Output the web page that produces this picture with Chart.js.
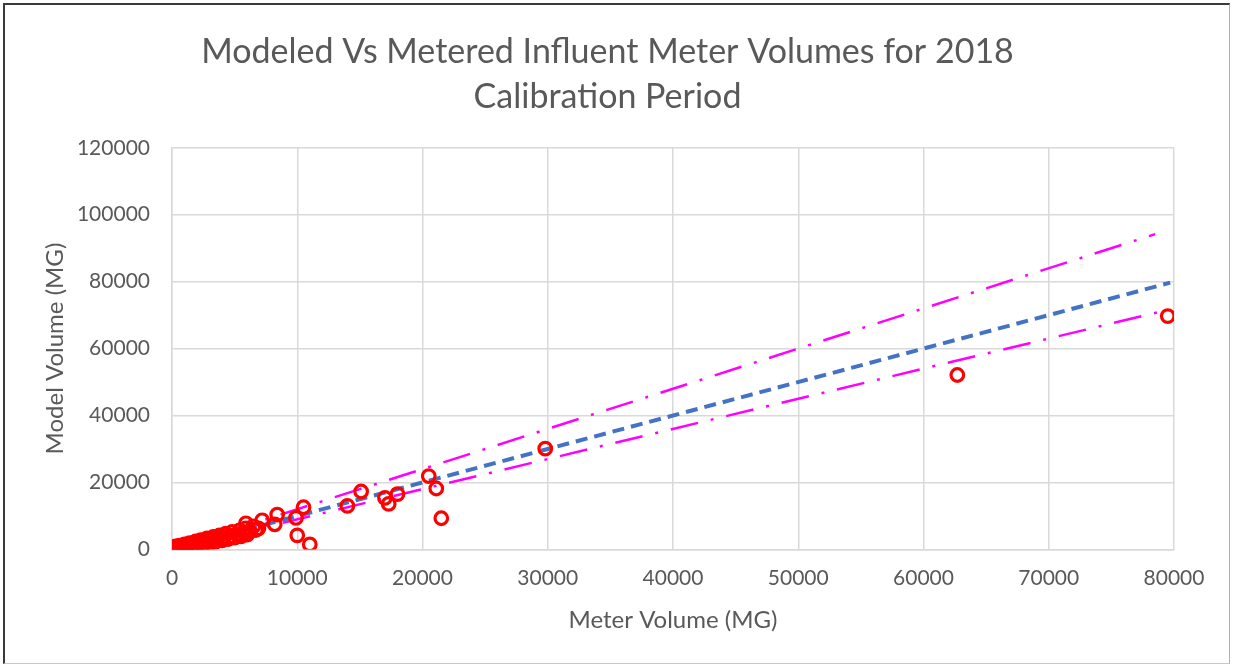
<!DOCTYPE html>
<html lang="en">
<head>
    <meta charset="UTF-8">
    <title>Modeled Vs Metered Influent Meter Volumes for 2018 Calibration Period</title>
    <style>
        * {
            margin: 0;
            padding: 0;
            box-sizing: border-box;
        }
        body {
            background: #ffffff;
            width: 1233px;
            height: 666px;
            overflow: hidden;
        }
        #chartBox {
            position: absolute;
            left: 0;
            top: 0;
            width: 1233px;
            height: 666px;
        }
        /* thin frame around the chart */
        .frame {
            position: absolute;
            left: 3px;
            top: 3px;
            width: 1227px;
            height: 661px;
            border-left: 2px solid #3a3a3a;
            border-top: 2px solid #3a3a3a;
            border-right: 1px solid #b0b0b0;
            border-bottom: 1px solid #c8c8c8;
            pointer-events: none;
        }
    </style>
</head>
<body>
    <div id="chartBox"><canvas id="volumeChart" width="1233" height="666"></canvas></div>
    <div class="frame"></div>

    <script src="https://cdn.jsdelivr.net/npm/chart.js"></script>
    <script>
        // metered vs modeled volumes (MG)
        const meterVolume = [
            0, 100, 200, 300, 400, 500, 600, 800, 900, 1000,
            1200, 1300, 1400, 1600, 1700, 1900, 2000, 2200, 2300, 2500,
            2600, 2800, 3000, 3100, 3300, 3500, 3600, 3800, 4000, 4100,
            4300, 4500, 4700, 4800, 5000, 5200, 5400, 5500, 5700, 5900,
            6000, 6200, 6500, 6700, 6900, 5900, 7200, 8200, 8400, 9900,
            10500, 10000, 11000, 14000, 15100, 17000, 17300, 18000, 20500, 21100,
            21500, 29800, 62700, 79500
        ];
        const modelVolume = [
            0, 600, 200, 900, 0, 400, 1100, 300, 900, 1500,
            700, 1300, 1900, 900, 1700, 2400, 1200, 2000, 2800, 1500,
            2400, 3300, 1900, 2800, 3700, 2300, 3200, 4200, 2700, 3600,
            4700, 3100, 4000, 5200, 3500, 4500, 5700, 3900, 5000, 6300,
            4400, 5400, 6900, 5800, 6300, 7800, 8700, 7500, 10400, 9400,
            12600, 4200, 1500, 13000, 17300, 15400, 13600, 16500, 21900, 18200,
            9300, 30100, 52100, 69700
        ];

        // reference lines: 1:1, +20% and -10%
        const oneToOneX = [0, 79700];
        const upperBandX = [0, 78500];
        const lowerBandX = [0, 79500];
        const upperFactor = 1.2;
        const lowerFactor = 0.9;

        const xTicks = [0, 10000, 20000, 30000, 40000, 50000, 60000, 70000, 80000];
        const yTicks = [0, 20000, 40000, 60000, 80000, 100000, 120000];

        const textColor = '#595959';
        const gridColor = '#d9d9d9';
        const fontName = 'Lato, "Open Sans", sans-serif';

        const points = meterVolume.map((x, i) => ({ x: x, y: modelVolume[i] }));
        const oneToOne = oneToOneX.map(x => ({ x: x, y: x }));
        const upperBand = upperBandX.map(x => ({ x: x, y: x * upperFactor }));
        const lowerBand = lowerBandX.map(x => ({ x: x, y: x * lowerFactor }));

        const ctx = document.getElementById('volumeChart').getContext('2d');
        const volumeChart = new Chart(ctx, {
            type: 'scatter',
            data: {
                datasets: [
                    {
                        label: 'Volumes',
                        data: points,
                        pointStyle: 'circle',
                        pointRadius: 6.3,
                        pointBorderWidth: 3.2,
                        borderColor: '#ff0000',
                        backgroundColor: 'rgba(0,0,0,0)',
                        showLine: false
                    },
                    {
                        label: '1:1',
                        data: oneToOne,
                        showLine: true,
                        borderColor: '#4472c4',
                        borderWidth: 4,
                        borderDash: [12, 7],
                        pointRadius: 0
                    },
                    {
                        label: '+20%',
                        data: upperBand,
                        showLine: true,
                        borderColor: '#ff00ff',
                        borderWidth: 2.5,
                        borderDash: [28, 13, 3, 13],
                        pointRadius: 0
                    },
                    {
                        label: '-10%',
                        data: lowerBand,
                        showLine: true,
                        borderColor: '#ff00ff',
                        borderWidth: 2.5,
                        borderDash: [28, 13, 3, 13],
                        pointRadius: 0
                    }
                ]
            },
            options: {
                responsive: false,
                animation: false,
                layout: { padding: { left: 41, right: 59, top: 0, bottom: 33 } },
                plugins: {
                    legend: { display: false },
                    tooltip: { enabled: false },
                    title: {
                        display: true,
                        text: ['Modeled Vs Metered Influent Meter Volumes for 2018', 'Calibration Period'],
                        color: textColor,
                        font: { family: fontName, size: 34, weight: 'normal', lineHeight: 1.32 },
                        padding: { top: 30, bottom: 28 }
                    }
                },
                scales: {
                    x: {
                        type: 'linear',
                        min: 0,
                        max: 80000,
                        afterBuildTicks: axis => { axis.ticks = xTicks.map(v => ({ value: v })); },
                        ticks: {
                            color: textColor,
                            font: { family: fontName, size: 21 },
                            padding: 16,
                            maxRotation: 0,
                            callback: v => String(v)
                        },
                        grid: { color: gridColor, lineWidth: 1.5, drawTicks: false },
                        border: { color: gridColor, width: 1.5 },
                        title: {
                            display: true,
                            text: 'Meter Volume (MG)',
                            color: textColor,
                            font: { family: fontName, size: 24, lineHeight: 1.1 },
                            padding: { top: 0, bottom: 0 }
                        }
                    },
                    y: {
                        type: 'linear',
                        min: 0,
                        max: 120000,
                        afterBuildTicks: axis => { axis.ticks = yTicks.map(v => ({ value: v })); },
                        afterFit: axis => { axis.width = 131; },
                        ticks: {
                            color: textColor,
                            font: { family: fontName, size: 21 },
                            padding: 22,
                            callback: v => String(v)
                        },
                        grid: { color: gridColor, lineWidth: 1.5, drawTicks: false },
                        border: { color: gridColor, width: 1.5 },
                        title: {
                            display: true,
                            text: 'Model Volume (MG)',
                            color: textColor,
                            font: { family: fontName, size: 24 },
                            padding: { top: 0, bottom: 0 }
                        }
                    }
                }
            }
        });
    </script>
</body>
</html>
